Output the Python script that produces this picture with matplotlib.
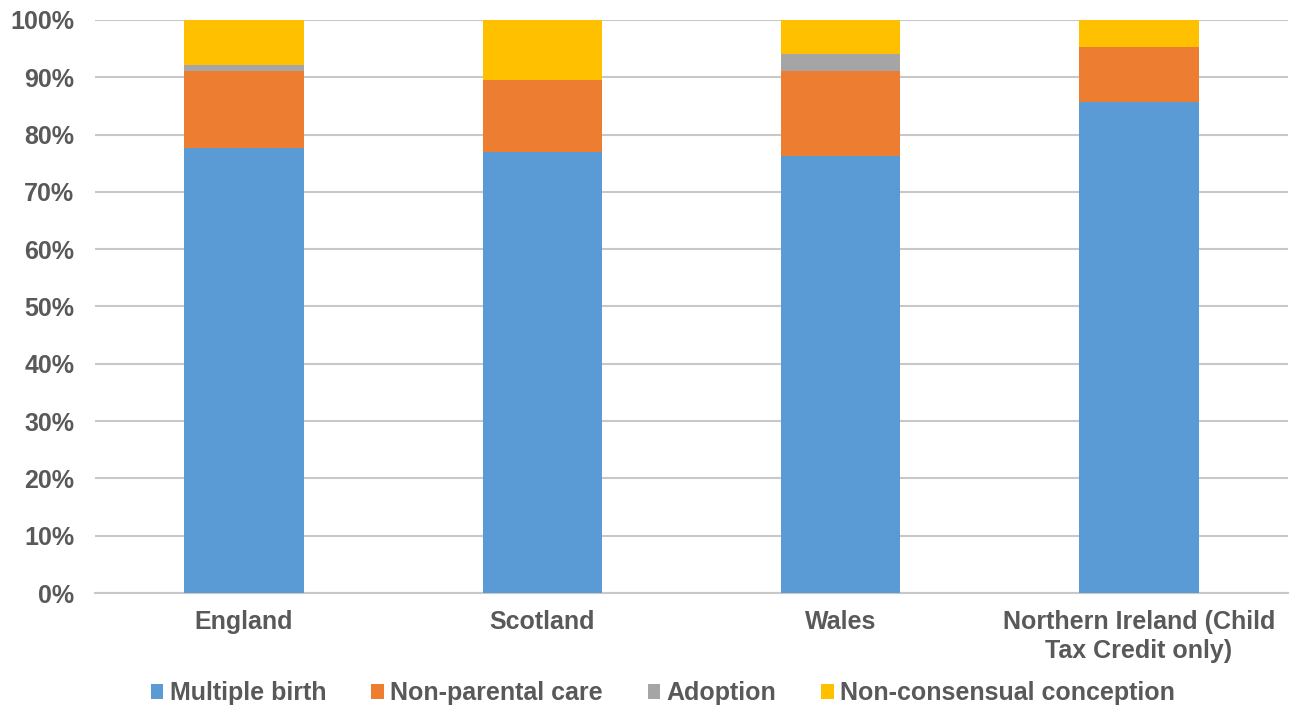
import matplotlib.pyplot as plt
from matplotlib.ticker import PercentFormatter
import numpy as np

plt.rcParams['font.family'] = ['Liberation Sans', 'DejaVu Sans']
plt.rcParams['font.weight'] = 'bold'

regions = ["England", "Scotland", "Wales", "Northern Ireland (Child\nTax Credit only)"]
series_names = ["Multiple birth", "Non-parental care", "Adoption", "Non-consensual conception"]
multiple_birth = [77.7, 77.0, 76.3, 85.6]
non_parental = [13.4, 12.6, 14.8, 9.6]
adoption = [1.0, 0.0, 2.9, 0.0]
non_consensual = [7.9, 10.4, 6.0, 4.8]
colors = ["#5b9bd5", "#ed7d31", "#a5a5a5", "#ffc000"]

txt = "#595959"
grid_c = "#c8c8c8"

fig = plt.figure(figsize=(12.92, 7.08), dpi=100)
ax = fig.add_axes([0.0735, 0.1624, 0.9235, 0.8094])

x = np.arange(len(regions))
bottom = np.zeros(len(regions))
for name, vals, c in zip(series_names, [multiple_birth, non_parental, adoption, non_consensual], colors):
    ax.bar(x, vals, width=0.4, bottom=bottom, color=c, label=name, zorder=3)
    bottom += np.array(vals)

ax.set_ylim(0, 100)
ax.set_xlim(-0.5, len(regions) - 0.5)
ax.set_yticks(np.arange(0, 101, 10))
ax.yaxis.set_major_formatter(PercentFormatter(decimals=0))
ax.set_xticks(x)
ax.set_xticklabels(regions, linespacing=1.3)
ax.grid(axis='y', color=grid_c, linewidth=1.5, zorder=0)
for s in ['top', 'right', 'left']:
    ax.spines[s].set_visible(False)
ax.spines['bottom'].set_color(grid_c)
ax.spines['bottom'].set_linewidth(1.5)
ax.tick_params(axis='both', length=0, labelsize=18, labelcolor=txt)
ax.tick_params(axis='x', pad=12)
ax.tick_params(axis='y', pad=15)
for lbl in ax.get_xticklabels() + ax.get_yticklabels():
    lbl.set_fontweight('bold')

leg = fig.legend(loc='lower center', bbox_to_anchor=(0.513, -0.028), ncol=4, frameon=False,
                 fontsize=18, handlelength=0.5, handleheight=0.5, handletextpad=0.25,
                 columnspacing=1.8)
for t in leg.get_texts():
    t.set_color(txt)
    t.set_fontweight('bold')

fig.savefig("out.png", dpi=100)
